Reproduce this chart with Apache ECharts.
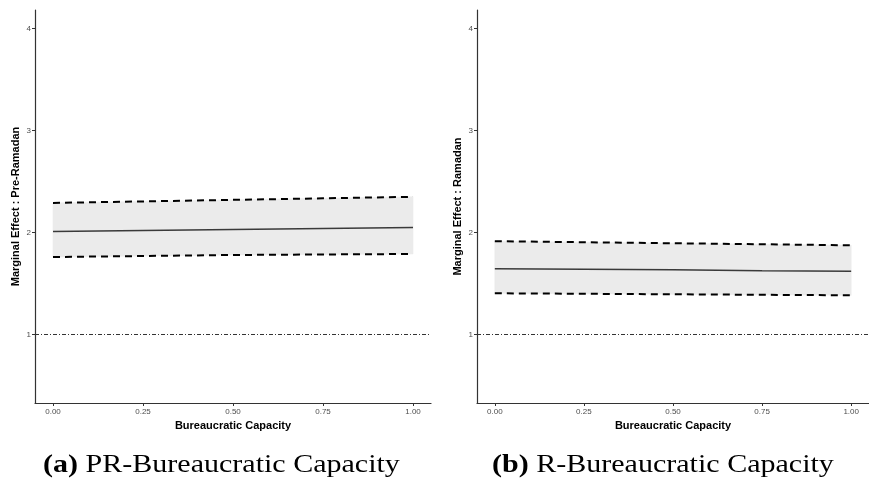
<!DOCTYPE html>
<html>
<head>
<meta charset="utf-8">
<script src="https://cdn.jsdelivr.net/npm/echarts@6/dist/echarts.min.js"></script>
<style>
html,body{margin:0;padding:0;background:#fff;}
#c{width:869px;height:483px;}
</style>
</head>
<body>
<div id="c"></div>
<script>
// ---- data ----
var xValues = [0, 0.25, 0.5, 0.75, 1];
var xTicks = [0, 0.25, 0.5, 0.75, 1];
var yTicks = [1, 2, 3, 4];
var refLine = 1;

var preCenter = [2.01, 2.02, 2.03, 2.04, 2.05];
var preUpper  = [2.29, 2.305, 2.32, 2.335, 2.35];
var preLower  = [1.76, 1.77, 1.78, 1.785, 1.79];

var ramCenter = [1.645, 1.64, 1.635, 1.625, 1.62];
var ramUpper  = [1.915, 1.905, 1.895, 1.885, 1.875];
var ramLower  = [1.405, 1.40, 1.395, 1.39, 1.385];

var yNames = ['Marginal Effect : Pre-Ramadan', 'Marginal Effect : Ramadan'];
var xName = 'Bureaucratic Capacity';
var captions = [['(a)', 'PR-Bureaucratic Capacity'], ['(b)', 'R-Bureaucratic Capacity']];

// ---- helpers ----
function pairs(ys) { return xValues.map(function (x, i) { return [x, ys[i]]; }); }
function bandData(lo, up) { return xValues.map(function (x, i) { return [x, lo[i], up[i]]; }); }

var axisColor = '#333';
var tickLabelColor = '#4d4d4d';
var sans = 'Liberation Sans, Arial, sans-serif';
var serif = 'Liberation Serif, serif';

function xAxisCfg(gi) {
  return {
    type: 'value', gridIndex: gi, min: -0.05, max: 1.05,
    name: xName, nameLocation: 'middle', nameGap: 17,
    nameTextStyle: { fontFamily: sans, fontSize: 11, fontWeight: 'bold', color: '#000' },
    axisLine: { show: true, onZero: false, lineStyle: { color: axisColor, width: 1.2 } },
    axisTick: { show: true, length: 3, customValues: xTicks, lineStyle: { color: axisColor } },
    axisLabel: { customValues: xTicks, fontFamily: sans, fontSize: 8, color: tickLabelColor, margin: 5,
      formatter: function (v) { return v.toFixed(2); } },
    splitLine: { show: false }
  };
}
function yAxisCfg(gi) {
  return {
    type: 'value', gridIndex: gi, min: 0.33, max: 4.18,
    name: yNames[gi], nameLocation: 'middle', nameGap: 14,
    nameTextStyle: { fontFamily: sans, fontSize: 11, fontWeight: 'bold', color: '#000' },
    axisLine: { show: true, onZero: false, lineStyle: { color: axisColor, width: 1.2 } },
    axisTick: { show: true, length: 3, customValues: yTicks, lineStyle: { color: axisColor } },
    axisLabel: { customValues: yTicks, fontFamily: sans, fontSize: 8, color: tickLabelColor, margin: 4 },
    splitLine: { show: false }
  };
}

function renderBand(params, api) {
  var n = params.dataInsideLength;
  var i = params.dataIndex;
  if (i >= n - 1) return;
  var x0 = api.value(0, i), x1 = api.value(0, i + 1);
  var p1 = api.coord([x0, api.value(1, i)]);
  var p2 = api.coord([x1, api.value(1, i + 1)]);
  var p3 = api.coord([x1, api.value(2, i + 1)]);
  var p4 = api.coord([x0, api.value(2, i)]);
  return { type: 'polygon', shape: { points: [p1, p2, p3, p4] },
    style: { fill: '#ebebeb', stroke: '#ebebeb', lineWidth: 0.6 } };
}

function panelSeries(gi, center, upper, lower) {
  return [
    { type: 'custom', xAxisIndex: gi, yAxisIndex: gi, data: bandData(lower, upper),
      renderItem: renderBand, encode: { x: 0, y: [1, 2] }, silent: true, z: 1 },
    { type: 'line', xAxisIndex: gi, yAxisIndex: gi, data: pairs(upper), symbol: 'none',
      lineStyle: { color: '#000', width: 2, type: [7, 5] }, z: 3, silent: true },
    { type: 'line', xAxisIndex: gi, yAxisIndex: gi, data: pairs(lower), symbol: 'none',
      lineStyle: { color: '#000', width: 2, type: [7, 5] }, z: 3, silent: true },
    { type: 'line', xAxisIndex: gi, yAxisIndex: gi, data: pairs(center), symbol: 'none',
      lineStyle: { color: '#3a3a3a', width: 1.6 }, z: 3, silent: true,
      markLine: { silent: true, symbol: 'none', label: { show: false },
        lineStyle: { color: '#333', width: 1, type: [4, 2, 1, 2] },
        data: [{ yAxis: refLine }] } }
  ];
}

function caption(idx, left) {
  return { type: 'text', left: left, top: 452, scaleX: 1.155, style: {
    text: '{b|' + captions[idx][0] + '} ' + captions[idx][1],
    fontFamily: serif, fontSize: 26, fill: '#000',
    rich: { b: { fontFamily: serif, fontSize: 26, fontWeight: 'bold', fill: '#000' } } } };
}

var chart = echarts.init(document.getElementById('c'), null, { renderer: 'canvas' });
chart.setOption({
  animation: false,
  backgroundColor: '#fff',
  grid: [
    { left: 35, top: 10, width: 396, height: 393 },
    { left: 477, top: 10, width: 396, height: 393 }
  ],
  xAxis: [xAxisCfg(0), xAxisCfg(1)],
  yAxis: [yAxisCfg(0), yAxisCfg(1)],
  series: [].concat(
    panelSeries(0, preCenter, preUpper, preLower),
    panelSeries(1, ramCenter, ramUpper, ramLower)
  ),
  graphic: [caption(0, 43), caption(1, 492)]
});
</script>
</body>
</html>
